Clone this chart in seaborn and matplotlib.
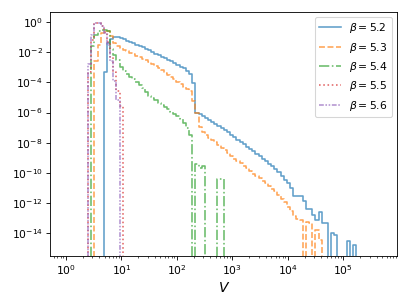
import numpy as np
import matplotlib
matplotlib.use("Agg")
import matplotlib.pyplot as plt
import seaborn as sns

# log-spaced histogram bins in V (100 bins)
bin_edges = np.logspace(0.0, 5.69, 101)

labels = [r"$\beta = 5.2$", r"$\beta = 5.3$", r"$\beta = 5.4$", r"$\beta = 5.5$", r"$\beta = 5.6$"]

# log10 of the normalised histogram value, starting at the given bin; None = empty bin
b52_first_bin = 12
b52_log10 = [-3.3, -1.4, -1.1, -1.0, -1.02, -1.08, -1.16, -1.25, -1.34, -1.43,
             -1.52, -1.6, -1.69, -1.79, -1.89, -1.99, -2.1, -2.2, -2.31, -2.42,
             -2.52, -2.62, -2.73, -2.84, -2.96, -3.08, -3.22, -3.42, -4.06, -6.0,
             -6.12, -6.25, -6.37, -6.5, -6.63, -6.76, -6.9, -7.03, -7.17, -7.32,
             -7.47, -7.63, -7.79, -7.95, -8.11, -8.27, -8.42, -8.58, -8.74, -8.9,
             -9.06, -9.22, -9.38, -9.55, -9.73, -9.95, -10.2, -10.45, -10.7, -11.0,
             -11.52, -11.52, -11.52, -11.84, -12.38, -12.38, -12.81, -13.14, -12.6, -13.35,
             -13.3, None, -14.0, -14.1, None, None, None, -14.54, None, -14.76]

b53_first_bin = 9
b53_log10 = [-2.6, -1.5, -0.75, -0.62, -0.62, -0.95, -1.4, -1.6, -1.72, -1.83,
             -1.93, -2.03, -2.13, -2.23, -2.33, -2.43, -2.53, -2.64, -2.77, -2.91,
             -3.06, -3.21, -3.36, -3.51, -3.66, -3.81, -3.96, -4.11, -4.28, -4.45,
             -4.6, -5.25, -6.0, -6.98, -7.3, -7.52, -7.7, -7.85, -7.95, -8.15,
             -8.35, -8.5, -8.65, -8.85, -9.05, -9.2, -9.35, -9.52, -9.7, -9.87,
             -10.05, -10.22, -10.37, -10.52, -10.67, -10.85, -11.05, -11.2, -11.45, -11.7,
             -11.95, -12.25, -12.5, -12.85, -13.05, -13.15, None, -13.25, -13.35, None,
             -13.8, -14.45]

b54_first_bin = 8
b54_log10 = [-1.6, -0.85, -0.6, -0.55, -0.55, -0.6, -1.8, -2.2, -2.55, -3.0,
             -3.25, -3.45, -3.62, -3.8, -4.0, -4.17, -4.4, -4.65, -4.88, -5.05,
             -5.2, -5.35, -5.48, -5.62, -5.78, -5.95, -6.08, -6.2, -6.45, -6.68,
             -7.0, -7.5, None, -9.4, -9.7, -9.55, None, None, None, None,
             -10.43, -10.43]

b55_first_bin = 7
b55_log10 = [-3.3, -1.2, -0.1, -0.1, -0.3, -0.7, -1.35, -2.3, -3.3, -4.6, -5.6]

b56_first_bin = 7
b56_log10 = [-2.77, -0.9, -0.05, -0.08, -0.3, -0.75, -1.5, -2.6, -3.9, -5.2]

series = [(b52_first_bin, b52_log10), (b53_first_bin, b53_log10), (b54_first_bin, b54_log10),
          (b55_first_bin, b55_log10), (b56_first_bin, b56_log10)]

styles = ["-", "--", "-.", ":", (0, (3, 1, 1, 1, 1, 1))]
colors = sns.color_palette("tab10", 5)

DPI = 77
fig, ax = plt.subplots(figsize=(409 / DPI, 307 / DPI), dpi=DPI)

for (first, logs), lab, ls, col in zip(series, labels, styles, colors):
    vals = np.zeros(len(bin_edges) - 1)
    for i, w in enumerate(logs):
        if w is not None:
            vals[first + i] = 10.0 ** w
    yv = np.append(vals, 0.0)
    sns.lineplot(x=bin_edges, y=yv, drawstyle="steps-post", color=col, linestyle=ls,
                 alpha=0.7, lw=1.5, label=lab, ax=ax, errorbar=None, sort=False)

ax.set_xscale("log")
ax.set_yscale("log")
ax.set_xlabel("$V$", fontsize=13)
ax.set_ylabel("")
ax.legend(loc="upper right")
fig.tight_layout()
fig.savefig("out.png", dpi=DPI)
